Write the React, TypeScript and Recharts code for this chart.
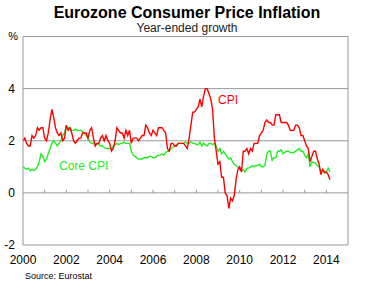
import React from 'react';
import { LineChart, Line, XAxis, YAxis, CartesianGrid, ReferenceLine } from 'recharts';

// monthly, Jan 2000 - Mar 2014, year-ended %
const cpi = [
  2.0, 2.1, 1.9, 1.8, 1.8, 2.2, 2.1, 2.2, 2.5, 2.4, 2.5, 2.5,
  2.1, 2.0, 2.3, 2.8, 3.2, 2.9, 2.5, 2.3, 2.2, 2.3, 2.0, 2.1,
  2.6, 2.4, 2.5, 2.3, 2.0, 1.9, 2.0, 2.1, 2.1, 2.3, 2.3, 2.3,
  2.1, 2.4, 2.5, 2.1, 1.8, 1.9, 1.9, 2.1, 2.2, 2.0, 2.2, 2.0,
  1.9, 1.6, 1.7, 2.0, 2.5, 2.4, 2.3, 2.3, 2.1, 2.4, 2.2, 2.4,
  1.9, 2.1, 2.1, 2.1, 2.0, 2.1, 2.2, 2.2, 2.6, 2.5, 2.3, 2.2,
  2.4, 2.3, 2.2, 2.5, 2.5, 2.5, 2.4, 2.3, 1.7, 1.6, 1.9, 1.9,
  1.8, 1.8, 1.9, 1.9, 1.9, 1.9, 1.8, 1.7, 2.1, 2.6, 3.1, 3.1,
  3.2, 3.3, 3.6, 3.3, 3.7, 4.0, 4.0, 3.8, 3.6, 3.2, 2.1, 1.6,
  1.1, 1.2, 0.6, 0.6, 0.0, -0.1, -0.6, -0.2, -0.3, -0.1, 0.5, 0.9,
  1.0, 0.8, 1.6, 1.6, 1.7, 1.5, 1.7, 1.6, 1.9, 1.9, 1.9, 2.2,
  2.3, 2.4, 2.7, 2.8, 2.7, 2.7, 2.6, 2.6, 3.0, 3.0, 3.0, 2.7,
  2.7, 2.7, 2.7, 2.6, 2.4, 2.4, 2.4, 2.6, 2.6, 2.5, 2.2, 2.2,
  2.0, 1.8, 1.7, 1.2, 1.4, 1.6, 1.6, 1.3, 1.1, 0.7, 0.9, 0.8,
  0.8, 0.7, 0.5,
];

const coreCpi = [
  1.0, 0.95, 0.9, 0.95, 0.85, 0.9, 0.85, 0.9, 1.0, 1.2, 1.5, 1.4,
  1.2, 1.3, 1.5, 1.7, 1.9, 2.0, 1.9, 1.8, 1.9, 2.0, 2.2, 2.3,
  2.55, 2.5, 2.5, 2.4, 2.4, 2.45, 2.4, 2.4, 2.4, 2.35, 2.3, 2.2,
  2.1, 1.95, 1.9, 1.9, 1.85, 1.9, 1.85, 1.8, 1.8, 1.75, 1.7, 1.7,
  1.7, 1.7, 1.8, 1.85, 1.9, 1.85, 1.9, 1.9, 1.95, 1.9, 1.9, 1.9,
  1.6, 1.45, 1.4, 1.35, 1.3, 1.3, 1.3, 1.35, 1.35, 1.35, 1.4, 1.4,
  1.35, 1.35, 1.4, 1.45, 1.45, 1.5, 1.45, 1.55, 1.6, 1.6, 1.7, 1.75,
  1.8, 1.85, 1.9, 1.9, 1.9, 1.9, 1.95, 1.9, 1.9, 1.95, 1.9, 1.9,
  1.85, 1.85, 1.95, 1.8, 1.9, 1.85, 1.8, 1.9, 1.9, 1.85, 1.9, 1.8,
  1.6, 1.7, 1.5, 1.6, 1.5, 1.4, 1.3, 1.35, 1.2, 1.1, 1.05, 1.0,
  0.9, 0.85, 0.9, 0.8, 0.95, 0.95, 1.0, 1.05, 1.0, 1.05, 1.05, 1.1,
  1.0, 1.0, 1.05, 1.5, 1.6, 1.6, 1.25, 1.35, 1.35, 1.6, 1.6, 1.65,
  1.5, 1.55, 1.6, 1.6, 1.55, 1.55, 1.55, 1.6, 1.65, 1.7, 1.6, 1.6,
  1.45, 1.35, 1.5, 1.0, 1.2, 1.15, 1.15, 1.05, 1.0, 0.8, 0.9, 0.75,
  0.8, 0.95, 0.8,
];

const startYear = 2000;
const xTicks = [2000, 2002, 2004, 2006, 2008, 2010, 2012, 2014];
const yTicks = [-2, 0, 2, 4, 6];
const yearMarks = [2001, 2002, 2003, 2004, 2005, 2006, 2007, 2008, 2009, 2010, 2011, 2012, 2013, 2014];

const rows = cpi.map((v, i) => ({ t: startYear + i / 12, cpi: v, core: coreCpi[i] }));

const FONT = 'Arial, "Liberation Sans", sans-serif';
const GRID = '#999';
const RED = '#ff0000';
const GREEN = '#22ee22';

// the top tick carries the unit label instead of a number
const YTick = ({ x, y, payload, side }: any) => {
  if (payload.value === 6) {
    const ux = side === 'left' ? x + 3 : x - 2;
    return (
      <text x={ux} y={y} dy="0.355em" textAnchor={side === 'left' ? 'end' : 'start'} fontSize={11} fill="#000" fontFamily={FONT}>
        %
      </text>
    );
  }
  return (
    <text x={x} y={y} dy="0.355em" textAnchor={side === 'left' ? 'end' : 'start'} fontSize={12} fill="#000" fontFamily={FONT}>
      {payload.value}
    </text>
  );
};

export default function App() {
  return (
    <div style={{ position: 'absolute', left: 0, top: 0, width: 374, height: 282, background: '#fff', fontFamily: FONT }}>
      <div style={{ position: 'absolute', left: 0, width: 374, top: 5, textAlign: 'center', fontSize: 16, lineHeight: 1, fontWeight: 'bold' }}>
        Eurozone Consumer Price Inflation
      </div>
      <div style={{ position: 'absolute', left: 0, width: 374, top: 22, textAlign: 'center', fontSize: 12, lineHeight: 1, color: '#222' }}>
        Year-ended growth
      </div>
      <LineChart width={374} height={282} data={rows} margin={{ top: 36.5, right: 0, bottom: 17, left: 0 }} style={{ fontFamily: FONT }}>
        <CartesianGrid yAxisId="l" vertical={false} stroke={GRID} />
        <XAxis
          dataKey="t"
          type="number"
          domain={[2000, 2015]}
          ticks={xTicks}
          axisLine={false}
          tickLine={false}
          tickMargin={4}
          height={20}
          tick={{ fontSize: 12, fill: '#000' }}
          interval={0}
        />
        <YAxis
          yAxisId="l"
          domain={[-2, 6]}
          ticks={yTicks}
          width={23}
          axisLine={{ stroke: GRID }}
          tickLine={false}
          tick={(p: any) => <YTick {...p} side="left" />}
          interval={0}
        />
        <YAxis
          yAxisId="r"
          orientation="right"
          domain={[-2, 6]}
          ticks={yTicks}
          width={26}
          axisLine={{ stroke: GRID }}
          tickLine={false}
          tick={(p: any) => <YTick {...p} side="right" />}
          interval={0}
        />
        {yearMarks.map((yr) => (
          <ReferenceLine key={yr} yAxisId="l" segment={[{ x: yr, y: 0 }, { x: yr, y: 0.12 }]} stroke={GRID} />
        ))}
        <Line yAxisId="l" type="linear" dataKey="core" stroke={GREEN} strokeWidth={1.4} dot={false} isAnimationActive={false} />
        <Line yAxisId="l" type="linear" dataKey="cpi" stroke={RED} strokeWidth={1.4} dot={false} isAnimationActive={false} />
      </LineChart>
      <div style={{ position: 'absolute', left: 218, top: 94, fontSize: 12, lineHeight: 1, color: RED }}>CPI</div>
      <div style={{ position: 'absolute', left: 59, top: 160, fontSize: 12, lineHeight: 1, color: GREEN }}>Core CPI</div>
      <div style={{ position: 'absolute', left: 25, top: 272, fontSize: 9, lineHeight: 1, color: '#000' }}>Source: Eurostat</div>
    </div>
  );
}
